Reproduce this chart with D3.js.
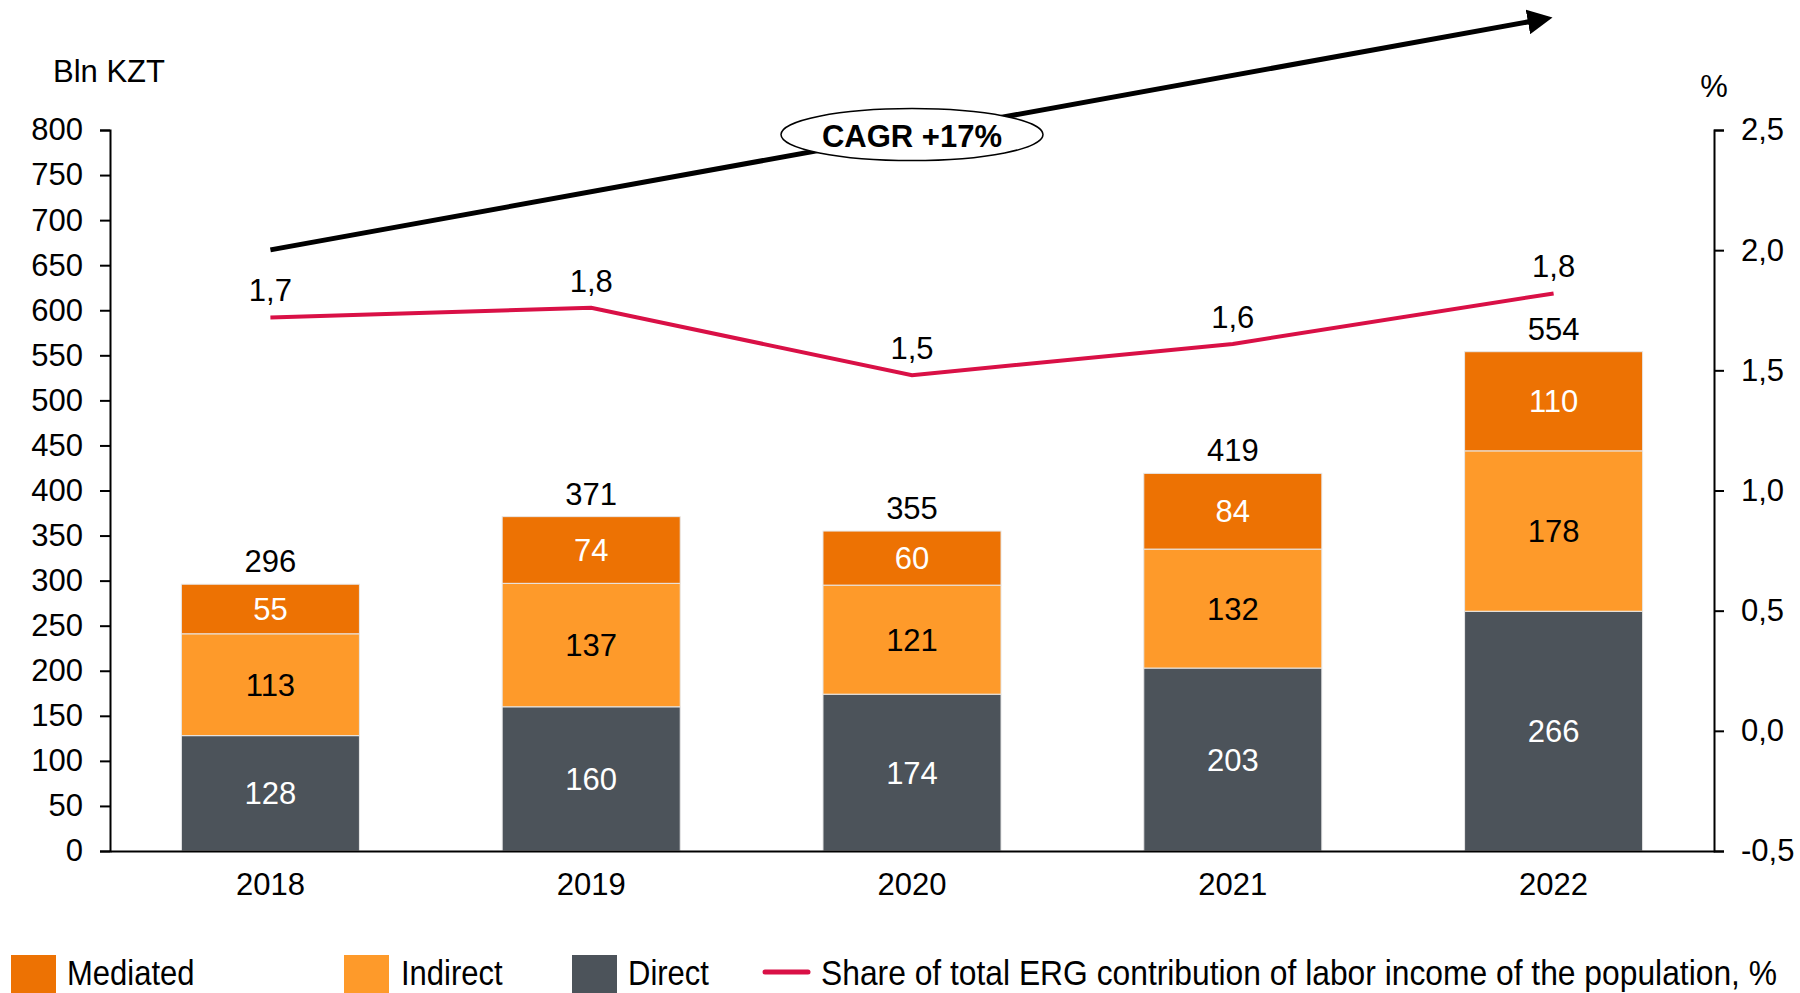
<!DOCTYPE html>
<html>
<head>
<meta charset="utf-8">
<script src="https://cdn.jsdelivr.net/npm/d3@7"></script>
<style>
  body { margin: 0; background: #fff; }
  svg text { font-family: "Liberation Sans", Arial, sans-serif; }
</style>
</head>
<body>
<script>
var years    = ["2018", "2019", "2020", "2021", "2022"];
var direct   = [128, 160, 174, 203, 266];
var indirect = [113, 137, 121, 132, 178];
var mediated = [55, 74, 60, 84, 110];
var share       = [1.72, 1.76, 1.48, 1.61, 1.82];
var shareLabels = ["1,7", "1,8", "1,5", "1,6", "1,8"];
var leftTicks  = [0, 50, 100, 150, 200, 250, 300, 350, 400, 450, 500, 550, 600, 650, 700, 750, 800];
var rightTicks = [-0.5, 0, 0.5, 1.0, 1.5, 2.0, 2.5];
var seriesNames = ["Direct", "Indirect", "Mediated"];
var seriesColors = ["#4c535a", "#fe9a2a", "#ed7203"];
var cagrText = "CAGR +17%";

function main() {

   var svg = d3.select("body")
               .append("svg")
               .attr("width", 1800)
               .attr("height", 993)

   var x = d3.scaleBand()
             .domain(years)
             .range([110, 1714])
             .paddingInner(0.445)
             .paddingOuter(0.2225)

   var yL = d3.scaleLinear().domain([0, 800]).range([851, 130])
   var yR = d3.scaleLinear().domain([-0.5, 2.5]).range([851, 130])

   // stacked data
   var rows = years.map(function(y, i) {
      return { year: y, Direct: direct[i], Indirect: indirect[i], Mediated: mediated[i] }
   })
   var stack = d3.stack().keys(seriesNames)(rows)

   var layers = svg.selectAll(".layer")
                   .data(stack)
                   .enter().append("g")
                   .attr("fill", function(d, i) { return seriesColors[i] })

   layers.selectAll("rect")
         .data(function(d) { return d })
         .enter().append("rect")
         .attr("x", function(d) { return x(d.data.year) })
         .attr("width", x.bandwidth())
         .attr("y", function(d) { return yL(d[1]) })
         .attr("height", function(d) { return yL(d[0]) - yL(d[1]) })
         .attr("stroke", "#e8e8e8")
         .attr("stroke-width", 1)

   // segment labels
   layers.each(function(s, si) {
      d3.select(this.parentNode).selectAll(".seg" + si)
        .data(s)
        .enter().append("text")
        .attr("x", function(d) { return x(d.data.year) + x.bandwidth() / 2 })
        .attr("y", function(d) { return (yL(d[0]) + yL(d[1])) / 2 + 11 })
        .attr("text-anchor", "middle")
        .attr("font-size", 31)
        .attr("fill", si == 1 ? "#000" : "#fff")
        .text(function(d) { return d.data[s.key] })
   })

   // totals
   svg.selectAll(".total")
      .data(rows)
      .enter().append("text")
      .attr("x", function(d) { return x(d.year) + x.bandwidth() / 2 })
      .attr("y", function(d) { return yL(d.Direct + d.Indirect + d.Mediated) - 12 })
      .attr("text-anchor", "middle")
      .attr("font-size", 31)
      .text(function(d) { return d.Direct + d.Indirect + d.Mediated })

   // axes
   var fmtR = function(d) { return d3.format(".1f")(d).replace(".", ",").replace("\u2212", "-") }

   var axL = svg.append("g")
                .attr("transform", "translate(110,0)")
                .call(d3.axisLeft(yL).tickValues(leftTicks).tickSize(10).tickPadding(17))
   var axR = svg.append("g")
                .attr("transform", "translate(1714,0)")
                .call(d3.axisRight(yR).tickValues(rightTicks).tickFormat(fmtR).tickSize(10).tickPadding(17))
   var axB = svg.append("g")
                .attr("transform", "translate(0,851)")
                .call(d3.axisBottom(x).tickSize(0).tickPadding(22))

   svg.selectAll(".domain").attr("stroke", "#000").attr("stroke-width", 2)
   svg.selectAll(".tick line").attr("stroke", "#000").attr("stroke-width", 2)
   svg.selectAll(".tick text")
      .attr("font-size", 31)
      .attr("fill", "#000")
      .attr("font-family", "Liberation Sans, Arial, sans-serif")

   // axis titles
   svg.append("text").attr("x", 53).attr("y", 82).attr("font-size", 31).text("Bln KZT")
   svg.append("text").attr("x", 1714).attr("y", 97).attr("font-size", 31)
      .attr("text-anchor", "middle").text("%")

   // share line
   var line = d3.line()
                .x(function(d, i) { return x(years[i]) + x.bandwidth() / 2 })
                .y(function(d) { return yR(d) })

   svg.append("path")
      .datum(share)
      .attr("d", line)
      .attr("fill", "none")
      .attr("stroke", "#d91046")
      .attr("stroke-width", 4)

   svg.selectAll(".shareLabel")
      .data(share)
      .enter().append("text")
      .attr("x", function(d, i) { return x(years[i]) + x.bandwidth() / 2 })
      .attr("y", function(d) { return yR(d) - 16 })
      .attr("text-anchor", "middle")
      .attr("font-size", 31)
      .text(function(d, i) { return shareLabels[i] })

   // CAGR arrow
   svg.append("defs").append("marker")
      .attr("id", "arr")
      .attr("viewBox", "0 0 10 10")
      .attr("refX", 8).attr("refY", 5)
      .attr("markerWidth", 5).attr("markerHeight", 5)
      .attr("orient", "auto")
      .append("path").attr("d", "M0,0 L10,5 L0,10 z").attr("fill", "#000")

   var ax0 = x(years[0]) + x.bandwidth() / 2, ay0 = yL(667)
   var ax1 = x(years[4]) + x.bandwidth() / 2, ay1 = yL(925)

   svg.append("line")
      .attr("x1", ax0).attr("y1", ay0)
      .attr("x2", ax1 - 6).attr("y2", ay1 + 1)
      .attr("stroke", "#000")
      .attr("stroke-width", 5)
      .attr("marker-end", "url(#arr)")

   svg.append("ellipse")
      .attr("cx", (ax0 + ax1) / 2).attr("cy", (ay0 + ay1) / 2 + 1)
      .attr("rx", 131).attr("ry", 26)
      .attr("fill", "#fff").attr("stroke", "#000").attr("stroke-width", 1.5)

   svg.append("text")
      .attr("x", (ax0 + ax1) / 2).attr("y", (ay0 + ay1) / 2 + 13)
      .attr("text-anchor", "middle")
      .attr("font-size", 31)
      .attr("font-weight", "bold")
      .text(cagrText)

   // legend
   var legItems = [
      { name: "Mediated", color: seriesColors[2], sx: 11, tx: 67 },
      { name: "Indirect", color: seriesColors[1], sx: 344, tx: 401 },
      { name: "Direct", color: seriesColors[0], sx: 572, tx: 628 }
   ]
   var leg = svg.append("g")
   leg.selectAll("rect")
      .data(legItems)
      .enter().append("rect")
      .attr("x", function(d) { return d.sx })
      .attr("y", 955)
      .attr("width", 45).attr("height", 40)
      .attr("fill", function(d) { return d.color })
   leg.selectAll("text")
      .data(legItems)
      .enter().append("text")
      .attr("transform", function(d) { return "translate(" + d.tx + ",985) scale(1,1.12)" })
      .attr("font-size", 31)
      .text(function(d) { return d.name })

   leg.append("line")
      .attr("x1", 765).attr("x2", 808)
      .attr("y1", 972).attr("y2", 972)
      .attr("stroke", "#d91046").attr("stroke-width", 5).attr("stroke-linecap", "round")
   leg.append("text")
      .attr("transform", "translate(821,985) scale(1,1.12)")
      .attr("font-size", 31)
      .attr("textLength", 956)
      .attr("lengthAdjust", "spacingAndGlyphs")
      .text("Share of total ERG contribution of labor income of the population, %")
}

main();
</script>
</body>
</html>
